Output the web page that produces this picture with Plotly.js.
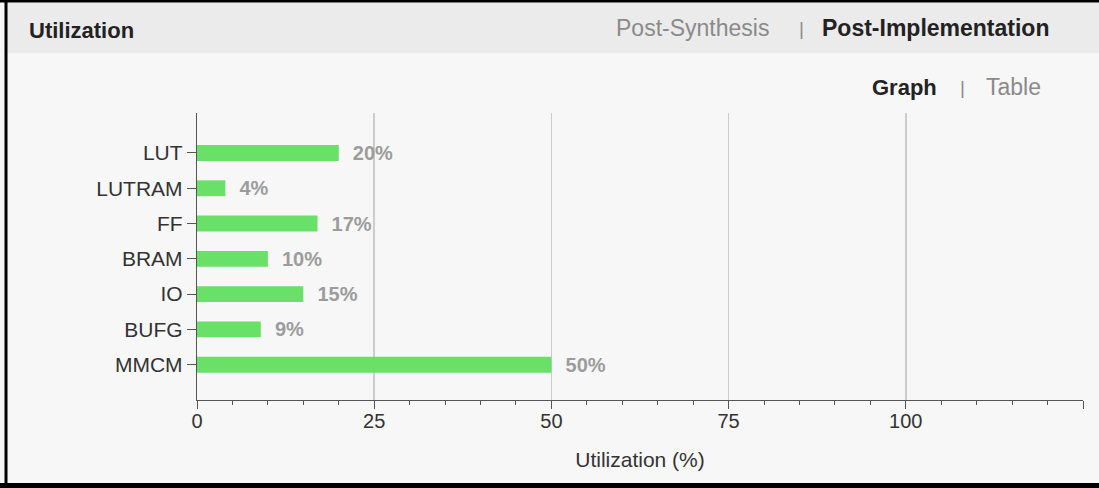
<!DOCTYPE html>
<html>
<head>
<meta charset="utf-8">
<script src="https://cdn.plot.ly/plotly-3.0.1.min.js"></script>
<style>
html,body{margin:0;padding:0;background:#f7f7f7;}
#chart{width:1099px;height:488px;}
</style>
</head>
<body>
<div id="chart"></div>
<script>
const categories = ["LUT", "LUTRAM", "FF", "BRAM", "IO", "BUFG", "MMCM"];
const utilization = [20, 4, 17, 10, 15, 9, 50];
const valueLabels = ["20%", "4%", "17%", "10%", "15%", "9%", "50%"];
const xTickVals = [0, 25, 50, 75, 100, 125];
const xTickText = ["0", "25", "50", "75", "100", ""];

const W = 1099, H = 488;
const M = {l: 197, r: 16, t: 113, b: 88};
const pw = W - M.l - M.r, ph = H - M.t - M.b;
const px = v => (v - M.l) / pw;
const py = v => (H - M.b - v) / ph;

const font = "Liberation Sans, Arial, sans-serif";

const trace = {
  type: "bar",
  orientation: "h",
  y: categories,
  x: utilization,
  width: 0.45,
  marker: {color: "#69e169"},
  text: valueLabels,
  texttemplate: "\u00a0\u00a0%{text}",
  textposition: "outside",
  constraintext: "none",
  cliponaxis: false,
  textfont: {family: font, size: 20, color: "#9c9c9c", weight: "bold"},
  hoverinfo: "skip"
};

const layout = {
  width: W, height: H,
  margin: M,
  paper_bgcolor: "#f7f7f7",
  plot_bgcolor: "#f7f7f7",
  showlegend: false,
  font: {family: font},
  xaxis: {
    range: [0, 125],
    tickmode: "array",
    tickvals: xTickVals,
    ticktext: xTickText,
    ticks: "outside",
    ticklen: 8,
    tickcolor: "#555",
    tickwidth: 1,
    ticklabelstandoff: -5,
    showgrid: true,
    gridcolor: "#cccccc",
    gridwidth: 1.5,
    zeroline: false,
    showline: true,
    linecolor: "#555",
    linewidth: 1.2,
    tickfont: {family: font, size: 20, color: "#333"},
    minor: {tickmode: "linear", tick0: 0, dtick: 5, ticks: "outside", ticklen: 4, tickcolor: "#555", showgrid: false},
    title: {text: "Utilization (%)", font: {family: font, size: 21, color: "#333"}, standoff: 21},
    fixedrange: true
  },
  yaxis: {
    type: "category",
    categoryorder: "array",
    categoryarray: categories,
    range: [7.0, -1.133],
    ticks: "outside",
    ticklen: 9,
    tickcolor: "#555",
    showgrid: false,
    zeroline: false,
    showline: true,
    linecolor: "#555",
    linewidth: 1.2,
    tickfont: {family: font, size: 21, color: "#333"},
    fixedrange: true
  },
  shapes: [
    {type: "rect", xref: "paper", yref: "paper", layer: "below",
     x0: px(6), x1: px(1099), y0: py(53), y1: py(3),
     fillcolor: "#ebebeb", line: {width: 0}},
    {type: "line", xref: "paper", yref: "paper",
     x0: px(0), x1: px(1099), y0: py(1), y1: py(1),
     line: {color: "#000", width: 3}},
    {type: "line", xref: "paper", yref: "paper",
     x0: px(0), x1: px(1099), y0: py(485.5), y1: py(485.5),
     line: {color: "#000", width: 5}},
    {type: "line", xref: "paper", yref: "paper",
     x0: px(6), x1: px(6), y0: py(0), y1: py(488),
     line: {color: "#000", width: 3}}
  ],
  annotations: [
    {xref: "paper", yref: "paper", x: px(27), y: py(31), xanchor: "left", yanchor: "middle",
     text: "<b>Utilization</b>", showarrow: false, font: {family: font, size: 22, color: "#222"}},
    {xref: "paper", yref: "paper", x: px(771), y: py(28), xanchor: "right", yanchor: "middle",
     text: "Post-Synthesis", showarrow: false, font: {family: font, size: 23, color: "#8a8a8a"}},
    {xref: "paper", yref: "paper", x: px(801), y: py(28), xanchor: "center", yanchor: "middle",
     text: "|", showarrow: false, font: {family: font, size: 19, color: "#8a8a8a"}},
    {xref: "paper", yref: "paper", x: px(820), y: py(28), xanchor: "left", yanchor: "middle",
     text: "<b>Post-Implementation</b>", showarrow: false, font: {family: font, size: 23, color: "#222"}},
    {xref: "paper", yref: "paper", x: px(939), y: py(87), xanchor: "right", yanchor: "middle",
     text: "<b>Graph</b>", showarrow: false, font: {family: font, size: 22, color: "#222"}},
    {xref: "paper", yref: "paper", x: px(962), y: py(87), xanchor: "center", yanchor: "middle",
     text: "|", showarrow: false, font: {family: font, size: 19, color: "#8a8a8a"}},
    {xref: "paper", yref: "paper", x: px(984), y: py(87), xanchor: "left", yanchor: "middle",
     text: "Table", showarrow: false, font: {family: font, size: 23, color: "#8a8a8a"}}
  ]
};

Plotly.newPlot("chart", [trace], layout, {displayModeBar: false, staticPlot: true});
</script>
</body>
</html>
